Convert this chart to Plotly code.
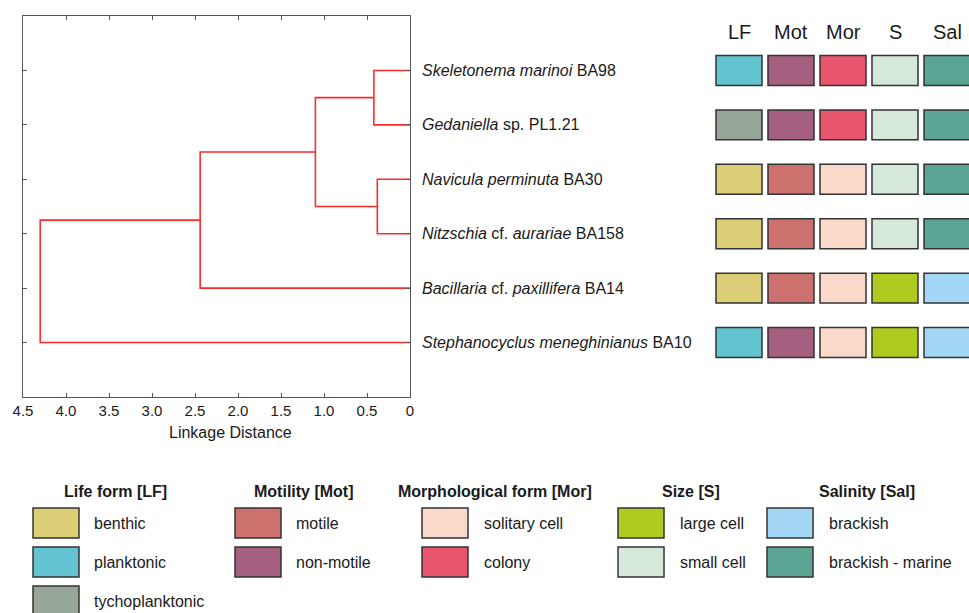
import plotly.graph_objects as go

# ---------------- data ----------------
species = [
    "<i>Skeletonema marinoi</i> BA98",
    "<i>Gedaniella</i> sp. PL1.21",
    "<i>Navicula perminuta</i> BA30",
    "<i>Nitzschia</i> cf. <i>aurariae</i> BA158",
    "<i>Bacillaria</i> cf. <i>paxillifera</i> BA14",
    "<i>Stephanocyclus meneghinianus</i> BA10",
]
# linkage: (child_a, child_b, distance); leaves are 0..5, new clusters 6..
merge_a = [0, 2, 6, 8, 9]
merge_b = [1, 3, 7, 4, 5]
merge_dist = [0.42, 0.38, 1.10, 2.44, 4.30]

x_ticks = [4.5, 4.0, 3.5, 3.0, 2.5, 2.0, 1.5, 1.0, 0.5, 0]
x_tick_text = ["4.5", "4.0", "3.5", "3.0", "2.5", "2.0", "1.5", "1.0", "0.5", "0"]

trait_cols = ["LF", "Mot", "Mor", "S", "Sal"]
LF = ["planktonic", "tychoplanktonic", "benthic", "benthic", "benthic", "planktonic"]
Mot = ["non-motile", "non-motile", "motile", "motile", "motile", "non-motile"]
Mor = ["colony", "colony", "solitary cell", "solitary cell", "solitary cell", "solitary cell"]
S = ["small cell", "small cell", "small cell", "small cell", "large cell", "large cell"]
Sal = ["brackish - marine"] * 4 + ["brackish", "brackish"]
traits = [LF, Mot, Mor, S, Sal]

legend_titles = ["Life form [LF]", "Motility [Mot]", "Morphological form [Mor]", "Size [S]", "Salinity [Sal]"]
legend_items = [
    ["benthic", "planktonic", "tychoplanktonic"],
    ["motile", "non-motile"],
    ["solitary cell", "colony"],
    ["large cell", "small cell"],
    ["brackish", "brackish - marine"],
]
colors = {
    "benthic": "#dbce76", "planktonic": "#63c3d1", "tychoplanktonic": "#97a598",
    "motile": "#cd716f", "non-motile": "#a55f7f",
    "solitary cell": "#fad9cb", "colony": "#ea556e",
    "large cell": "#aecb1f", "small cell": "#d6e8da",
    "brackish": "#a3d7f5", "brackish - marine": "#5ba494",
}

# ---------------- layout constants ----------------
W, H = 969, 613
FONT = "Liberation Sans, Arial, sans-serif"
TXT = "#1a1a1a"
FRAME = "#555555"
def px(x): return x / W
def py(y): return 1 - y / H

# ---------------- dendrogram geometry ----------------
n = len(species)
node_y = {i: i + 1 for i in range(n)}
node_h = {i: 0.0 for i in range(n)}
lx, ly = [], []
for k, (a, b, d) in enumerate(zip(merge_a, merge_b, merge_dist)):
    nid = n + k
    lx += [node_h[a], d, d, node_h[b], None]
    ly += [node_y[a], node_y[a], node_y[b], node_y[b], None]
    node_y[nid] = (node_y[a] + node_y[b]) / 2
    node_h[nid] = d

fig = go.Figure()
fig.add_trace(go.Scatter(x=lx, y=ly, mode="lines", line=dict(color="#ff2a2a", width=1.6),
                         hoverinfo="skip", showlegend=False))

# ---------------- trait cells ----------------
cx, cy, cc = [], [], []
for j, col in enumerate(traits):
    for i, v in enumerate(col):
        cx.append(j)
        cy.append(i + 1)
        cc.append(colors[v])
CELL_H = 0.55
fig.add_trace(go.Bar(
    x=cx, y=[CELL_H] * len(cx), base=[v - CELL_H / 2 for v in cy],
    width=0.885, marker=dict(color=cc, line=dict(color="#333333", width=1.5)),
    xaxis="x3", yaxis="y3", hoverinfo="skip", showlegend=False))

annotations = []
for j, name in enumerate(trait_cols):
    annotations.append(dict(x=j, y=py(32), xref="x3", yref="paper", text=name, showarrow=False,
                            font=dict(size=20, color=TXT, family=FONT), xanchor="center", yanchor="middle"))

for i, name in enumerate(species):
    annotations.append(dict(x=px(420), y=i + 1, xref="paper", yref="y", text=name, showarrow=False,
                            font=dict(size=16, color=TXT, family=FONT), xanchor="left", yanchor="middle"))

annotations.append(dict(x=px(230), y=py(432), xref="paper", yref="paper", text="Linkage Distance",
                        showarrow=False, font=dict(size=16, color=TXT, family=FONT),
                        xanchor="center", yanchor="middle"))

# ---------------- legend ----------------
shapes = []
group_title_x = [115, 304, 495, 691, 867]
group_sw_x = [33, 235, 422, 618, 767]
group_sw_w = 46
group_txt_x = [92, 294, 482, 678, 827]
row_y0 = 523
row_dy = 39
sw_h = 30
for g, title in enumerate(legend_titles):
    annotations.append(dict(x=px(group_title_x[g]), y=py(491), xref="paper", yref="paper",
                            text="<b>" + title + "</b>", showarrow=False,
                            font=dict(size=16, color=TXT, family=FONT), xanchor="center", yanchor="middle"))
    for r, item in enumerate(legend_items[g]):
        yc = row_y0 + r * row_dy
        shapes.append(dict(type="rect", xref="paper", yref="paper",
                           x0=px(group_sw_x[g]), x1=px(group_sw_x[g] + group_sw_w),
                           y0=py(yc - sw_h / 2), y1=py(yc + sw_h / 2),
                           fillcolor=colors[item], line=dict(color="#333333", width=1.5)))
        annotations.append(dict(x=px(group_txt_x[g]), y=py(yc), xref="paper", yref="paper",
                                text=item, showarrow=False, font=dict(size=16, color=TXT, family=FONT),
                                xanchor="left", yanchor="middle"))

axis_common = dict(showgrid=False, zeroline=False, automargin=False)
fig.update_layout(
    width=W, height=H,
    margin=dict(l=0, r=0, t=0, b=0, pad=0, autoexpand=False),
    paper_bgcolor="white", plot_bgcolor="white",
    font=dict(family=FONT, color=TXT, size=14),
    barmode="overlay",
    showlegend=False,
    xaxis=dict(domain=[px(23), px(410)], range=[4.5, 0], tickvals=x_ticks, ticktext=x_tick_text,
               ticks="inside", ticklen=4, tickcolor=FRAME, showline=True, linecolor=FRAME, linewidth=1.2,
               mirror="ticks", tickfont=dict(size=15, color=TXT), anchor="y", **axis_common),
    yaxis=dict(domain=[py(397), py(16)], range=[7, 0], tickvals=list(range(1, n + 1)),
               showticklabels=False, ticks="inside", ticklen=4, tickcolor=FRAME,
               showline=True, linecolor=FRAME, linewidth=1.2, mirror="ticks", anchor="x", **axis_common),
    xaxis3=dict(domain=[px(713), 1], range=[-0.5, -0.5 + 256 / 52], visible=False, anchor="y3",
                automargin=False),
    yaxis3=dict(domain=[py(397), py(16)], range=[7, 0], visible=False, anchor="x3", automargin=False),
    annotations=annotations,
    shapes=shapes,
)

fig.write_html(
    "out.html",
    config={"displayModeBar": False},
    post_script="document.body.style.margin='0';document.body.style.overflow='hidden';",
)
